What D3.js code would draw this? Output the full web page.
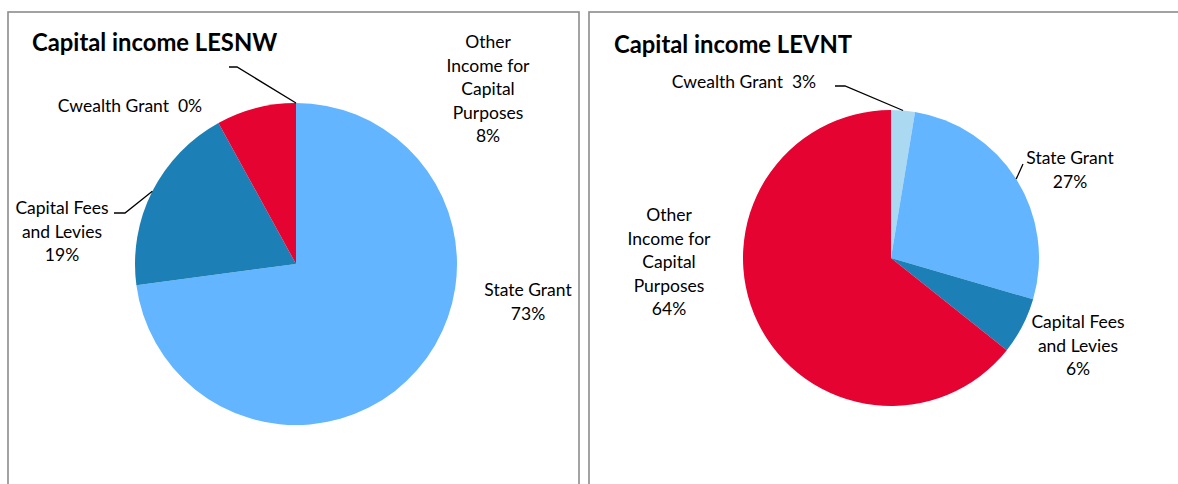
<!DOCTYPE html>
<html><head><meta charset="utf-8">
<script src="https://cdn.jsdelivr.net/npm/d3@7"></script>
<style>
html,body{margin:0;padding:0;background:#fff;}
svg{display:block;}
text{font-family:Lato,"Open Sans",sans-serif;fill:#000;}
</style></head>
<body>
<svg id="chart" width="1178" height="484"></svg>
<script>
const categories = ["Cwealth Grant", "State Grant", "Capital Fees and Levies", "Other Income for Capital Purposes"];
const colors = ["#ABD9F2", "#63B5FF", "#1C80B6", "#E40331"];
const lesnwValues = [0, 72.9, 19.1, 8.0];
const levntValues = [2.6, 26.9, 6.2, 64.3];
const titles = ["Capital income LESNW", "Capital income LEVNT"];

const svg = d3.select("#chart");

const panels = [
  {title: titles[0], values: lesnwValues, box: [8, 12, 571, 500], titleX: 32, titleY: 43,
   cx: 296, cy: 264, r: 161,
   labels: [
     {lines: null, single: true, x: 130, y: 106, leader: [[229, 67], [237, 67]]},
     {lines: ["State Grant"], x: 528, y: 290, leader: null},
     {lines: ["Capital Fees", "and Levies"], x: 62, y: 208, leader: [[114, 213], [125, 213]]},
     {lines: ["Other", "Income for", "Capital", "Purposes"], x: 488, y: 42, leader: null}
   ]},
  {title: titles[1], values: levntValues, box: [589, 12, 600, 500], titleX: 614, titleY: 45,
   cx: 891, cy: 258, r: 148,
   labels: [
     {lines: null, single: true, x: 744, y: 82, leader: [[835, 86], [845, 86]]},
     {lines: ["State Grant"], x: 1070, y: 158, leader: [[1023, 164]]},
     {lines: ["Capital Fees", "and Levies"], x: 1078, y: 322, leader: null},
     {lines: ["Other", "Income for", "Capital", "Purposes"], x: 669, y: 215, leader: null}
   ]}
];

const lineH = 23.5;
const pie = d3.pie().sort(null).value(d => d);
const fmt = v => d3.format(".0f")(v) + "%";

panels.forEach(p => {
  const g = svg.append("g");
  g.append("rect").attr("x", p.box[0]).attr("y", p.box[1]).attr("width", p.box[2]).attr("height", p.box[3])
    .attr("fill", "#fff").attr("stroke", "#8c8c8c").attr("stroke-width", 1.6);
  g.append("text").attr("x", p.titleX).attr("y", p.titleY).attr("dy", "0.35em")
    .attr("font-weight", 700).attr("font-size", 23.8).text(p.title);

  const total = d3.sum(p.values);
  const arcs = pie(p.values);
  const arc = d3.arc().innerRadius(0).outerRadius(p.r);
  const pg = g.append("g").attr("transform", `translate(${p.cx},${p.cy})`);
  pg.selectAll("path").data(arcs).join("path")
    .attr("d", arc).attr("fill", (d, i) => colors[i]);

  arcs.forEach((a, i) => {
    const L = p.labels[i];
    const pct = fmt(p.values[i] / total * 100);
    if (L.leader) {
      const mid = (a.startAngle + a.endAngle) / 2;
      const ex = p.cx + p.r * Math.sin(mid), ey = p.cy - p.r * Math.cos(mid);
      const pts = L.leader.concat([[ex, ey]]);
      g.append("path").attr("d", d3.line()(pts)).attr("fill", "none")
        .attr("stroke", "#000").attr("stroke-width", 1.3);
    }
    const t = g.append("text").attr("font-size", 17.5).attr("text-anchor", "middle");
    if (L.single) {
      t.attr("x", L.x).attr("y", L.y).attr("dy", "0.35em").style("white-space", "pre")
        .text(categories[i] + "  " + pct);
    } else {
      const lines = L.lines.concat([pct]);
      lines.forEach((s, k) => {
        t.append("tspan").attr("x", L.x).attr("y", L.y + k * lineH).attr("dy", "0.35em").text(s);
      });
    }
  });
});
</script>
</body></html>
